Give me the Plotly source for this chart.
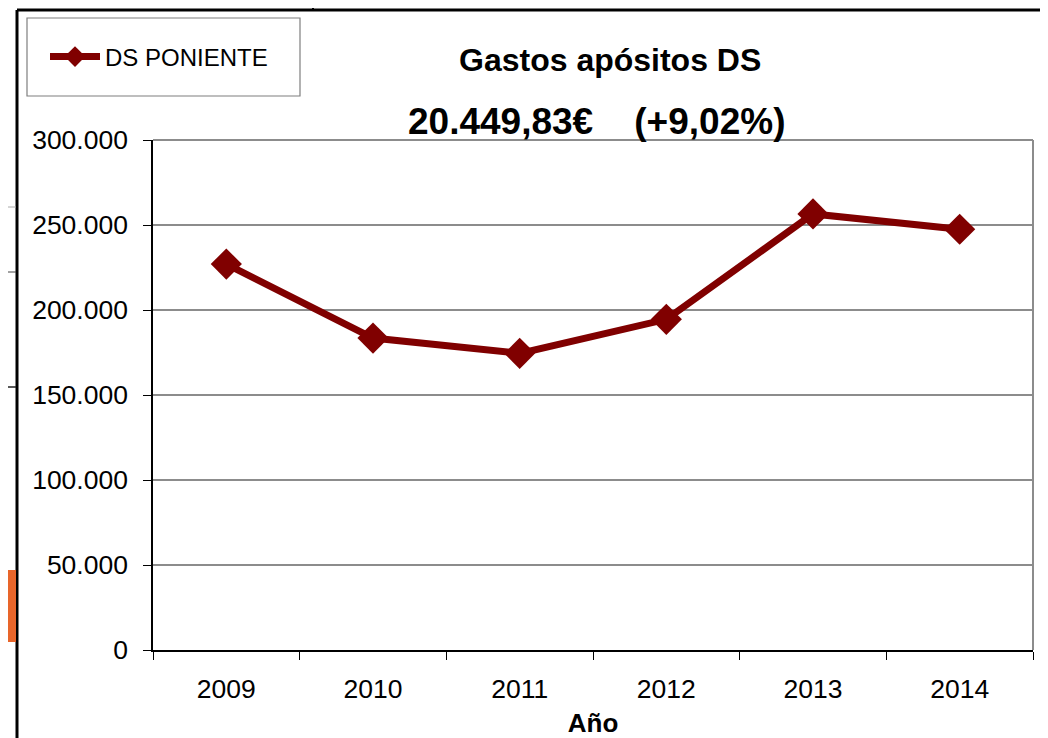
import plotly.graph_objects as go

years = ["2009", "2010", "2011", "2012", "2013", "2014"]
gastos = [227000, 183500, 174500, 194500, 256500, 247500]
series_name = "DS PONIENTE"
y_ticks = [0, 50000, 100000, 150000, 200000, 250000, 300000]

OFF = 8  # page body margin
W, H = 1048 - OFF, 738 - OFF
L, R, T, B = 153 - OFF, 15, 140 - OFF, 88
pw, ph = W - L - R, H - T - B

def px(x):
    return (x - OFF - L) / pw

def py(y):
    return (H - B - (y - OFF)) / ph

color = "#800000"
font = "Liberation Sans, Arial, sans-serif"

fig = go.Figure()
fig.add_trace(go.Scatter(
    x=years, y=gastos, name=series_name, mode="lines+markers",
    line=dict(color=color, width=7),
    marker=dict(symbol="diamond", size=24, color=color),
))

shapes = [
    dict(type="rect", xref="paper", yref="paper", x0=px(27), x1=px(300), y0=py(96), y1=py(18),
         line=dict(color="#7f7f7f", width=1.2)),
    dict(type="line", xref="paper", yref="paper", x0=px(17), x1=px(1060), y0=py(10), y1=py(10),
         line=dict(color="black", width=3)),
    dict(type="line", xref="paper", yref="paper", x0=px(17), x1=px(17), y0=py(10), y1=py(745),
         line=dict(color="black", width=3)),
    dict(type="line", xref="paper", yref="paper", x0=px(313), x1=px(313), y0=py(-5), y1=py(10),
         line=dict(color="black", width=2)),
    dict(type="line", xref="paper", yref="paper", x0=px(-5), x1=px(228), y0=py(3), y1=py(3),
         line=dict(color="#9a9a9a", width=2)),
    dict(type="line", xref="paper", yref="paper", x0=px(228), x1=px(228), y0=py(-5), y1=py(8),
         line=dict(color="#9a9a9a", width=1.5)),
    dict(type="rect", xref="paper", yref="paper", x0=px(-5), x1=px(16), y0=py(642), y1=py(570),
         line=dict(width=0), fillcolor="#e8652a"),
    dict(type="line", xref="paper", yref="paper", x0=px(-5), x1=px(16), y0=py(207), y1=py(207),
         line=dict(color="#aaaaaa", width=1)),
    dict(type="line", xref="paper", yref="paper", x0=px(-5), x1=px(16), y0=py(272), y1=py(272),
         line=dict(color="#444444", width=1)),
    dict(type="line", xref="paper", yref="paper", x0=px(-5), x1=px(16), y0=py(387), y1=py(387),
         line=dict(color="#222222", width=1.5)),
    dict(type="line", xref="paper", yref="paper", x0=0, x1=1, y0=1, y1=1,
         line=dict(color="#8c8c8c", width=2)),
    dict(type="line", xref="paper", yref="paper", x0=1, x1=1, y0=0, y1=1,
         line=dict(color="#8c8c8c", width=2)),
]

annotations = [
    dict(text="<b>Gastos apósitos DS</b>", xref="paper", yref="paper", x=px(610), y=py(60),
         xanchor="center", yanchor="middle", showarrow=False, font=dict(size=32, color="black", family=font)),
    dict(text="<b>20.449,83€    (+9,02%)</b>", xref="paper", yref="paper", x=px(596), y=py(122),
         xanchor="center", yanchor="middle", showarrow=False, font=dict(size=37, color="black", family=font)),
]

fig.update_layout(
    width=W, height=H,
    margin=dict(l=L, r=R, t=T, b=B, autoexpand=False),
    paper_bgcolor="white", plot_bgcolor="white",
    font=dict(family=font, color="black", size=24),
    separators=",.",
    showlegend=True,
    legend=dict(x=px(45), y=py(57), xanchor="left", yanchor="middle",
                bgcolor="rgba(0,0,0,0)", borderwidth=0, font=dict(size=24, family=font),
                itemwidth=50),
    shapes=shapes,
    annotations=annotations,
    xaxis=dict(
        type="category", tickson="boundaries", ticks="outside", ticklen=8, tickcolor="black",
        showline=True, linecolor="black", linewidth=1.5, showgrid=False, automargin=False,
        tickfont=dict(size=26.5), range=[-0.5, 5.5], ticklabelstandoff=14,
        title=dict(text="<b>Año</b>", font=dict(size=26), standoff=14),
    ),
    yaxis=dict(
        range=[0, 300000], tickvals=y_ticks, tickformat=",d", ticks="outside", ticklen=8,
        tickcolor="black", showline=True, linecolor="black", linewidth=1.5, automargin=False,
        showgrid=True, gridcolor="#8c8c8c", gridwidth=1.5, zeroline=False,
        tickfont=dict(size=26.5), ticklabelstandoff=10,
    ),
)

fig.write_html("out.html")
